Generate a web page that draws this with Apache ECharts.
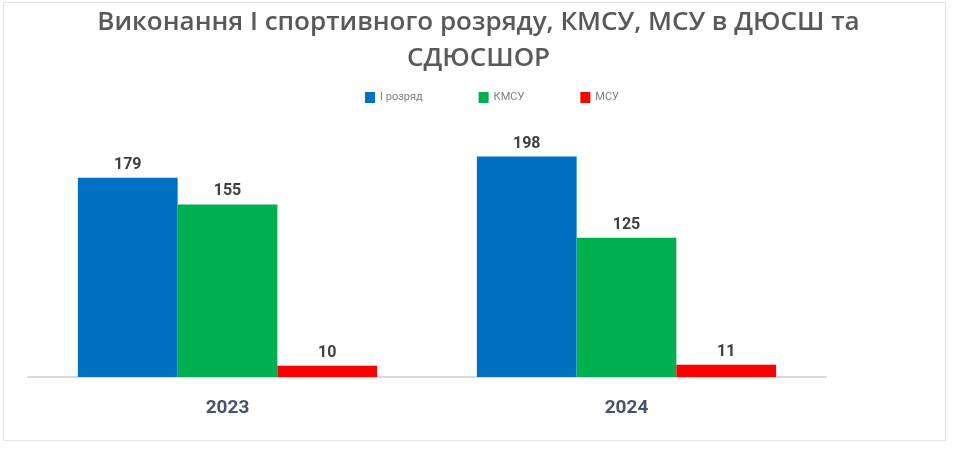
<!DOCTYPE html>
<html><head><meta charset="utf-8">
<script src="https://cdn.jsdelivr.net/npm/echarts@6/dist/echarts.min.js"></script>
<style>html,body{margin:0;padding:0;background:#fff}#c{width:957px;height:449px}</style>
</head><body><div id="c"></div>
<script>
const categories = ['2023', '2024'];
const seriesNames = ['І розряд', 'КМСУ', 'МСУ'];
const rozryad = [179, 198];
const kmsu = [155, 125];
const msu = [10, 11];
const colors = ['#0070C0', '#00B050', '#FF0000'];

const chart = echarts.init(document.getElementById('c'));
const labelCfg = {show: true, position: 'top', color: '#404040', fontSize: 16, fontWeight: 'bold', fontFamily: 'Roboto, sans-serif', distance: 5};
chart.setOption({
  animation: false,
  backgroundColor: '#fff',
  graphic: [{type: 'rect', shape: {x: 3.5, y: 2.5, width: 942, height: 438}, style: {fill: 'none', stroke: '#e3e3e3', lineWidth: 1}, silent: true}],
  title: {
    text: 'Виконання І спортивного розряду, КМСУ, МСУ в ДЮСШ та\nСДЮСШОР',
    left: 'center', top: 0,
    textStyle: {fontSize: 26, fontWeight: 600, color: '#595959', fontFamily: '"Open Sans", sans-serif', lineHeight: 36}
  },
  legend: {
    data: seriesNames, top: 87, left: 360, itemWidth: 10, itemHeight: 11, itemGap: 56,
    icon: 'rect',
    textStyle: {fontSize: 11, color: '#7f7f7f', fontFamily: 'Roboto, sans-serif'}
  },
  grid: {left: 28, right: 131, top: 132, bottom: 72},
  xAxis: {
    type: 'category', data: categories,
    axisLine: {lineStyle: {color: '#D9D9D9', width: 2}},
    axisTick: {show: false},
    axisLabel: {fontSize: 19, fontWeight: 'bold', color: '#44546A', margin: 22, fontFamily: 'Roboto, sans-serif'}
  },
  yAxis: {type: 'value', min: 0, max: 220, show: false, splitLine: {show: false}},
  series: [
    {name: seriesNames[0], type: 'bar', data: rozryad, itemStyle: {color: colors[0]}, barGap: '0%', barCategoryGap: '25%', label: labelCfg},
    {name: seriesNames[1], type: 'bar', data: kmsu, itemStyle: {color: colors[1]}, barGap: '0%', barCategoryGap: '25%', label: labelCfg},
    {name: seriesNames[2], type: 'bar', data: msu, itemStyle: {color: colors[2]}, barGap: '0%', barCategoryGap: '25%', label: labelCfg}
  ]
});
</script></body></html>
